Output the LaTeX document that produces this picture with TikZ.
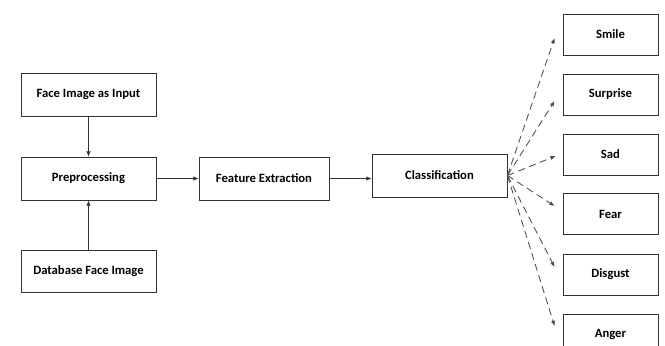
\documentclass[tikz,border=0pt]{standalone}
\usepackage{fontspec}
\setmainfont{Carlito}
\usepackage{tikz}
\usetikzlibrary{arrows.meta,positioning,calc}

\begin{document}
\begin{tikzpicture}[
  x=0.025cm, y=-0.025cm,
  font=\fontsize{9}{10.8}\selectfont\bfseries,
  blk/.style={draw=black!80, line width=0.6pt, minimum width=3.375cm,
              minimum height=1.075cm, inner sep=2pt, fill=white},
  emo/.style={blk, minimum width=2.375cm, minimum height=1.025cm},
  flow/.style={-{Latex[length=1.3mm,width=1.1mm]}, draw=black!80, line width=0.5pt},
  guess/.style={-{Latex[length=1.3mm,width=1.1mm]}, draw=black!70, line width=0.6pt,
                dash pattern=on 1.8mm off 1.1mm},
]
\useasboundingbox (0,0) rectangle (665,345);

% ============ helper coordinates ============
\def\xl{88.5}   % left column
\def\xe{610.5}  % emotion column

% ===================== pipeline =====================
\node[blk] (input) at (\xl,94.5)  {Face Image as Input};
\node[blk] (prep)  at (\xl,178.5) {Preprocessing};
\node[blk, minimum height=1.05cm] (db) at (\xl,271) {Database Face Image};
\node[blk, minimum width=3.25cm] (feat) at (264,178.5) {Feature Extraction};
\node[blk] (cls)   at (439.5,175.5) {Classification};

\draw[flow] (input) -- (prep);
\draw[flow] (db) -- (prep);
\draw[flow] (prep) -- (feat);
\draw[flow] (feat.east) -- (feat.east -| cls.west);

% ===================== emotions =====================
\node[emo] (smile) at (\xe,34.5)  {Smile};
\node[emo] (surp)  at (\xe,94.5)  {Surprise};
\node[emo] (sad)   at (\xe,154.5) {Sad};
\node[emo] (fear)  at (\xe,214)   {Fear};
\node[emo] (disg)  at (\xe,274.5) {Disgust};
\node[emo] (anger) at (\xe,334.5) {Anger};

% arrow ends sit just left of each box
\coordinate (tsmile) at ($(smile.west)+(-8,3.5)$);
\coordinate (tsurp)  at ($(surp.west)+(-8,6.5)$);
\coordinate (tsad)   at ($(sad.west)+(-7,1.5)$);
\coordinate (tfear)  at ($(fear.west)+(-8,-8)$);
\coordinate (tdisg)  at ($(disg.west)+(-8,-7.5)$);
\coordinate (tanger) at ($(anger.west)+(-8,-8.5)$);

\foreach \t in {tsmile,tsurp,tsad,tfear,tdisg,tanger}{
  \draw[guess] (cls.east) -- (\t);
}

\end{tikzpicture}
\end{document}
